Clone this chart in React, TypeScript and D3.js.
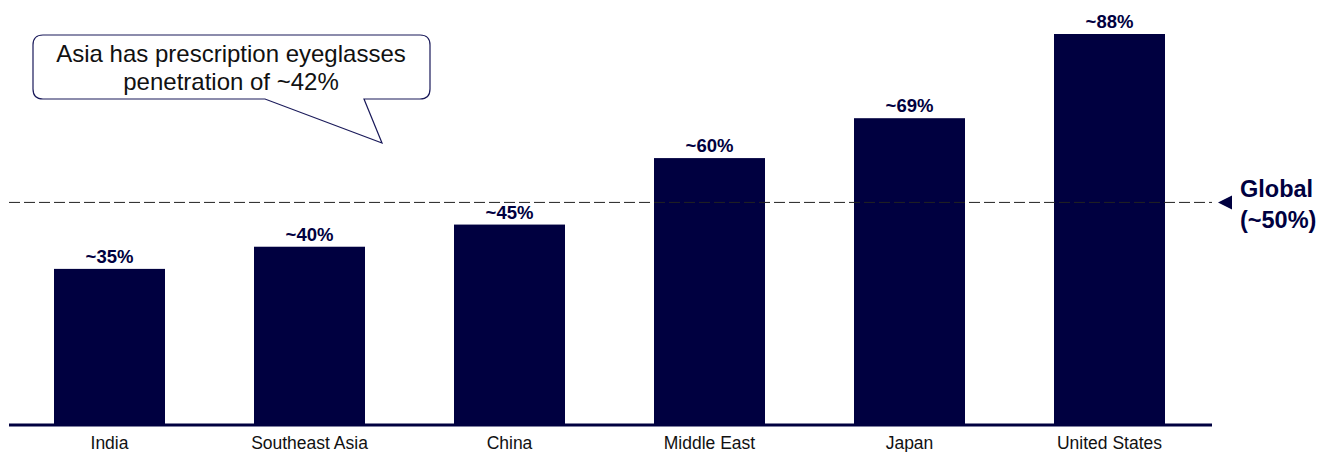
import React from "react";
import * as d3 from "d3";

const categories = ["India", "Southeast Asia", "China", "Middle East", "Japan", "United States"];
const values = [35, 40, 45, 60, 69, 88];
const valueLabels = ["~35%", "~40%", "~45%", "~60%", "~69%", "~88%"];
const globalValue = 50;
const globalLabel = ["Global", "(~50%)"];
const calloutLines = ["Asia has prescription eyeglasses", "penetration of ~42%"];

const W = 1317;
const H = 452;
const NAVY = "#000040";
const FONT = "Arial, 'Liberation Sans', sans-serif";

export default function App() {
  const x = d3.scaleBand<string>().domain(categories).range([9.5, 1209.5]).paddingInner(0.445).paddingOuter(0.2225);
  const y = d3.scaleLinear().domain([0, 88]).range([424, 34]);
  const gy = y(globalValue);
  return (
    <svg width={W} height={H} style={{ position: "absolute", left: 0, top: 0 }} fontFamily={FONT}>
      <rect width={W} height={H} fill="#fff" />
      {categories.map((c, i) => (
        <g key={c}>
          <rect x={x(c)} y={y(values[i])} width={x.bandwidth()} height={y(0) - y(values[i])} fill={NAVY} />
          <text x={(x(c) as number) + x.bandwidth() / 2} y={y(values[i]) - 6} textAnchor="middle" fontSize={18.5} fontWeight="bold" fill={NAVY}>
            {valueLabels[i]}
          </text>
          <text x={(x(c) as number) + x.bandwidth() / 2} y={448.5} textAnchor="middle" fontSize={17.5} fill="#111">
            {c}
          </text>
        </g>
      ))}
      <line x1={9} x2={1212} y1={gy} y2={gy} stroke="#222" strokeWidth={1} strokeDasharray="11,4" />
      <line x1={9} x2={1212} y1={y(0) + 1} y2={y(0) + 1} stroke={NAVY} strokeWidth={3} />
      <path d={`M1218,${gy} L1232,${gy - 7} L1232,${gy + 7} Z`} fill={NAVY} />
      <text x={1240} y={gy - 5} fontSize={23.5} fontWeight="bold" fill={NAVY}>{globalLabel[0]}</text>
      <text x={1240} y={gy + 26} fontSize={23.5} fontWeight="bold" fill={NAVY}>{globalLabel[1]}</text>
      <path
        d="M43,35 H420 Q430,35 430,45 V89 Q430,99 420,99 H364 L382,143 L265,99 H43 Q33,99 33,89 V45 Q33,35 43,35 Z"
        fill="#fff"
        stroke="#1a1a5a"
        strokeWidth={1.2}
      />
      {calloutLines.map((l, i) => (
        <text key={i} x={231} y={62 + i * 28} textAnchor="middle" fontSize={24} fill="#111">{l}</text>
      ))}
    </svg>
  );
}
